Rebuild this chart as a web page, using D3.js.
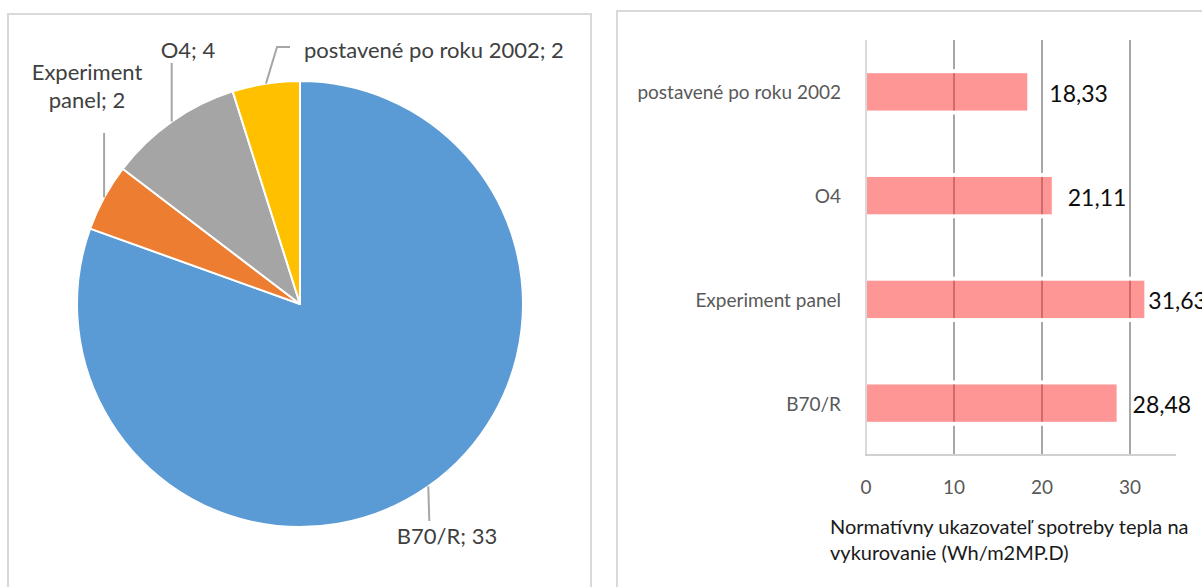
<!DOCTYPE html>
<html><head><meta charset="utf-8">
<script src="https://cdn.jsdelivr.net/npm/d3@7"></script>
<style>
body{margin:0;background:#fff}
svg{display:block}
text{font-family:Lato,"Open Sans",sans-serif}
</style>
</head><body>
<svg id="c" width="1202" height="587"></svg>
<script>
// ---- data ----
const pieCategories = ["B70/R", "Experiment panel", "O4", "postavené po roku 2002"];
const pieValues = [33, 2, 4, 2];
const pieColors = ["#5B9BD5", "#ED7D31", "#A5A5A5", "#FFC000"];

const barCategories = ["postavené po roku 2002", "O4", "Experiment panel", "B70/R"];
const barValues = [18.33, 21.11, 31.63, 28.48];
const xTicks = [0, 10, 20, 30];
const axisTitleLines = ["Normatívny ukazovateľ spotreby tepla na", "vykurovanie (Wh/m2MP.D)"];

const fmt = v => String(v.toFixed(2)).replace(".", ",");

const svg = d3.select("#c");

// ---- panel frames ----
svg.append("rect").attr("x", 8).attr("y", 14).attr("width", 583).attr("height", 620)
  .attr("fill", "#fff").attr("stroke", "#d9d9d9").attr("stroke-width", 2);
svg.append("rect").attr("x", 617).attr("y", 11).attr("width", 620).attr("height", 620)
  .attr("fill", "#fff").attr("stroke", "#d9d9d9").attr("stroke-width", 2);

// ---- pie ----
const cx = 300, cy = 304, R = 223;
const pg = svg.append("g").attr("transform", `translate(${cx},${cy})`);
const arcs = d3.pie().sort(null).value(d => d)(pieValues);
const arc = d3.arc().innerRadius(0).outerRadius(R);
pg.selectAll("path.slice").data(arcs).join("path")
  .attr("class", "slice")
  .attr("d", arc)
  .attr("fill", (d, i) => pieColors[i])
  .attr("stroke", "#fff").attr("stroke-width", 2).attr("stroke-linejoin", "round");

// label layout (relative to pie centre): leader path after edge point, text anchor
const pieLabelLayout = {
  "B70/R": {leader: p => [p, [p[0] + 1, 217]], text: {x: 147, y: 240, anchor: "middle"}, lines: d => [d.cat + "; " + d.val]},
  "Experiment panel": {leader: p => [p, [p[0], -171]], text: {x: -213, y: -224, anchor: "middle"}, lines: d => ["Experiment", "panel; " + d.val]},
  "O4": {leader: p => [p, [p[0], -241]], text: {x: -112, y: -246, anchor: "middle"}, lines: d => [d.cat + "; " + d.val]},
  "postavené po roku 2002": {leader: p => [p, [-23, -257], [-10, -257]], text: {x: 4, y: -246, anchor: "start"}, lines: d => [d.cat + "; " + d.val]}
};

arcs.forEach((a, i) => {
  const cat = pieCategories[i];
  const mid = (a.startAngle + a.endAngle) / 2;
  const p = [R * Math.sin(mid), -R * Math.cos(mid)];
  const L = pieLabelLayout[cat];
  pg.append("path")
    .attr("d", d3.line()(L.leader(p)))
    .attr("fill", "none").attr("stroke", "#a6a6a6").attr("stroke-width", 2);
  const t = pg.append("text")
    .attr("x", L.text.x).attr("y", L.text.y)
    .attr("text-anchor", L.text.anchor)
    .attr("fill", "#404040").attr("font-size", 22);
  L.lines({cat: cat, val: pieValues[i]}).forEach((s, j) => {
    t.append("tspan").attr("x", L.text.x).attr("dy", j === 0 ? 0 : 28).text(s);
  });
});

// ---- bar chart ----
const x = d3.scaleLinear().domain([0, 35]).range([866, 1174]);
const y = d3.scaleBand().domain(barCategories).range([40, 455]).paddingInner(0.64).paddingOuter(0.32);
const bg = svg.append("g");

// gridlines
bg.selectAll("line.grid").data(xTicks.filter(t => t > 0)).join("line")
  .attr("class", "grid")
  .attr("x1", d => x(d)).attr("x2", d => x(d))
  .attr("y1", 40).attr("y2", 455)
  .attr("stroke", "#8a8a8a").attr("stroke-width", 1.5);

// white gaps above / below bars
const gap = 4;
barCategories.forEach((c, i) => {
  [y(c) - gap, y(c) + y.bandwidth()].forEach(yy => {
    bg.append("rect").attr("x", x(0)).attr("y", yy)
      .attr("width", x(barValues[i]) - x(0)).attr("height", gap).attr("fill", "#fff");
  });
});

// bars (translucent)
bg.selectAll("rect.bar").data(barCategories).join("rect")
  .attr("class", "bar")
  .attr("x", x(0)).attr("y", d => y(d))
  .attr("width", (d, i) => x(barValues[i]) - x(0))
  .attr("height", y.bandwidth())
  .attr("fill", "rgb(255,45,45)").attr("fill-opacity", 0.5);

// axes lines
bg.append("line").attr("x1", x(0)).attr("x2", x(0)).attr("y1", 40).attr("y2", 456)
  .attr("stroke", "#d9d9d9").attr("stroke-width", 2);
bg.append("line").attr("x1", x(0) - 1).attr("x2", 1176).attr("y1", 455).attr("y2", 455)
  .attr("stroke", "#d0d0d0").attr("stroke-width", 2);

// category labels
bg.selectAll("text.cat").data(barCategories).join("text")
  .attr("class", "cat")
  .attr("x", 841).attr("y", d => y(d) + y.bandwidth() / 2)
  .attr("text-anchor", "end").attr("dominant-baseline", "central")
  .attr("fill", "#595959").attr("font-size", 19)
  .text(d => d);

// tick labels
bg.selectAll("text.tick").data(xTicks).join("text")
  .attr("class", "tick")
  .attr("x", d => x(d)).attr("y", 486)
  .attr("text-anchor", "middle").attr("dominant-baseline", "central")
  .attr("fill", "#595959").attr("font-size", 19)
  .text(d => d);

// value labels
const labelOffset = 16;
const labelNudge = {"postavené po roku 2002": 6, "Experiment panel": -12};
bg.selectAll("text.val").data(barCategories).join("text")
  .attr("class", "val")
  .attr("x", (d, i) => x(barValues[i]) + labelOffset + (labelNudge[d] || 0))
  .attr("y", d => y(d) + y.bandwidth() / 2 + 1)
  .attr("dominant-baseline", "central")
  .attr("fill", "#0d0d0d").attr("font-size", 23)
  .text((d, i) => fmt(barValues[i]));

// axis title
const at = bg.append("text").attr("x", 830).attr("y", 526)
  .attr("dominant-baseline", "central")
  .attr("fill", "#1a1a1a").attr("font-size", 20);
axisTitleLines.forEach((s, j) => at.append("tspan").attr("x", 830).attr("dy", j === 0 ? 0 : 26).text(s));
</script>
</body></html>
